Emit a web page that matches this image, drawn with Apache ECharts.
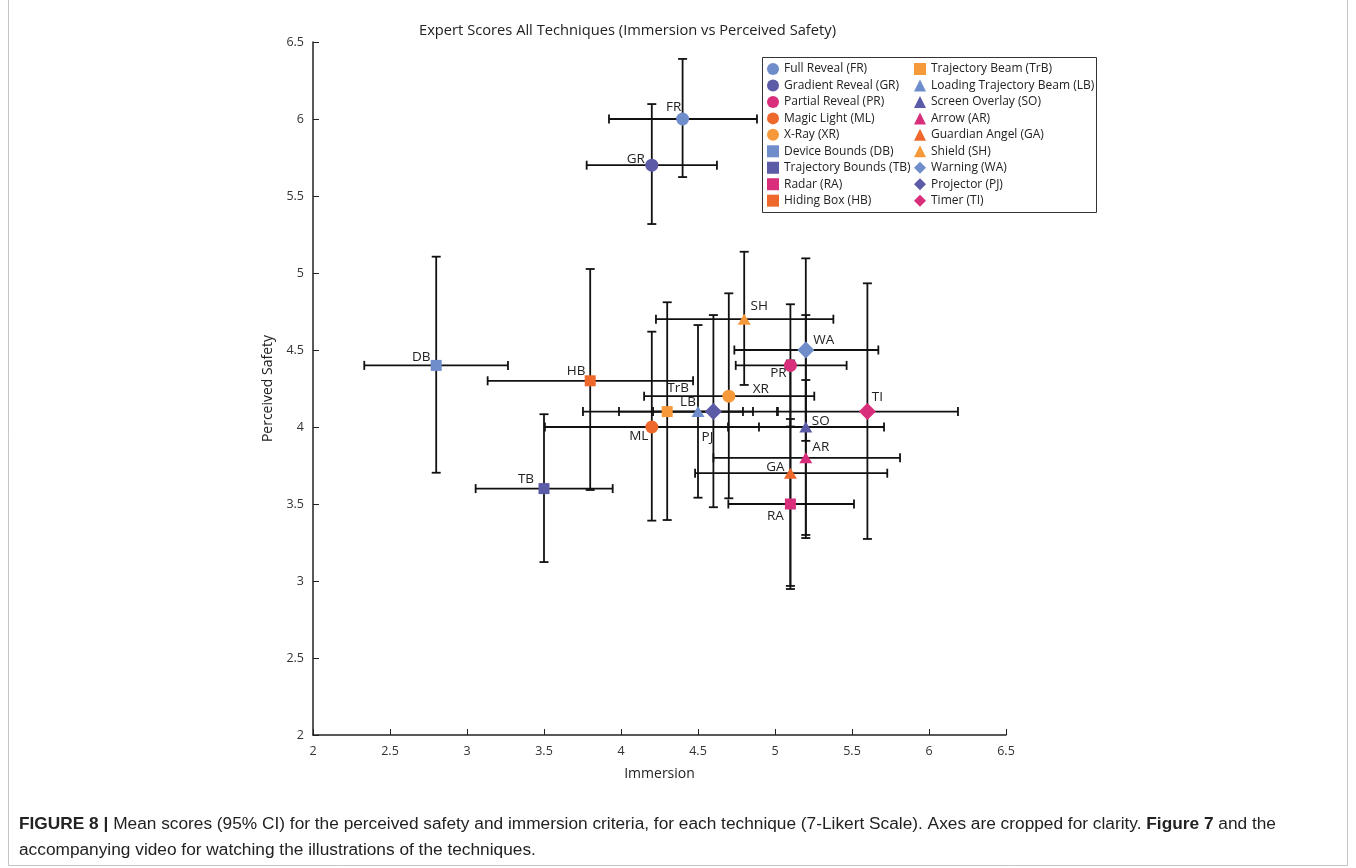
<!DOCTYPE html>
<html><head><meta charset="utf-8">
<script src="https://cdn.jsdelivr.net/npm/echarts@6/dist/echarts.min.js"></script>
<style>html,body{margin:0;padding:0;background:#fff}#c{width:1356px;height:868px}</style>
</head><body><div id="c"></div>
<script>
// ---- data ----
const techniques = ['Full Reveal (FR)','Gradient Reveal (GR)','Partial Reveal (PR)','Magic Light (ML)','X-Ray (XR)','Device Bounds (DB)','Trajectory Bounds (TB)','Radar (RA)','Hiding Box (HB)','Trajectory Beam (TrB)','Loading Trajectory Beam (LB)','Screen Overlay (SO)','Arrow (AR)','Guardian Angel (GA)','Shield (SH)','Warning (WA)','Projector (PJ)','Timer (TI)'];
const abbreviations = ['FR','GR','PR','ML','XR','DB','TB','RA','HB','TrB','LB','SO','AR','GA','SH','WA','PJ','TI'];
const immersionMean = [4.4,4.2,5.1,4.2,4.7,2.8,3.5,5.1,3.8,4.3,4.5,5.2,5.2,5.1,4.8,5.2,4.6,5.6];
const immersionLow  = [3.922,3.777,4.745,3.506,4.150,2.333,3.056,4.697,3.134,3.753,4.208,4.695,4.600,4.481,4.227,4.736,3.987,5.019];
const immersionHigh = [4.883,4.623,5.465,4.896,5.255,3.266,3.946,5.513,4.468,4.857,4.792,5.708,5.812,5.729,5.379,5.671,5.013,6.188];
const safetyMean = [6.0,5.7,4.4,4.0,4.2,4.4,3.6,3.5,4.3,4.1,4.1,4.0,3.8,3.7,4.7,4.5,4.1,4.1];
const safetyLow  = [5.623,5.318,4.003,3.392,3.537,3.703,3.123,2.948,3.591,3.396,3.541,3.279,3.299,2.968,4.273,3.910,3.479,3.273];
const safetyHigh = [6.390,6.097,4.797,4.619,4.868,5.106,4.083,4.052,5.026,4.810,4.662,4.727,4.305,4.432,5.138,5.095,4.727,4.933];
const axisMin = 2, axisMax = 6.5, axisStep = 0.5;

// ---- styles ----
const C1='#6f8dcb', C2='#5c5ba7', C3='#d82e7b', C4='#ee682b', C5='#f6993a';
const colors = [C1,C2,C3,C4,C5,C1,C2,C3,C4,C5,C1,C2,C3,C4,C5,C1,C2,C3];
const shapeOf = {c:'circle', s:'rect', t:'triangle', d:'diamond'};
const shapes = ['c','c','c','c','c','s','s','s','s','s','t','t','t','t','t','d','d','d'];
const sizeOf = {c:13, s:11, t:[13,11], d:17};
const labelOffsets = {FR:[-9,-12],GR:[-16,-6],PR:[-12,8],ML:[-13,9],XR:[32,-7],DB:[-15,-8],TB:[-18,-9],RA:[-15,12],HB:[-14,-10],TrB:[11,-23],LB:[-10,-9],SO:[15,-6],AR:[15,-11],GA:[-15,-6],SH:[15,-13],WA:[18,-10],PJ:[-6,26],TI:[10,-14]};
const FONT = "'Open Sans', 'Noto Sans', sans-serif";

const chart = echarts.init(document.getElementById('c'), null, {renderer:'canvas'});

const errData = techniques.map((t,i)=>[immersionMean[i], safetyMean[i], immersionLow[i], immersionHigh[i], safetyLow[i], safetyHigh[i]]);

const series = [{
  type:'custom', name:'err', silent:true, z:1,
  encode:{x:[0,2,3], y:[1,4,5]},
  data: errData,
  renderItem: function(params, api){
    const xm=api.value(0), ym=api.value(1), xl=api.value(2), xh=api.value(3), yl=api.value(4), yh=api.value(5);
    const pL=api.coord([xl,ym]), pR=api.coord([xh,ym]), pT=api.coord([xm,yh]), pB=api.coord([xm,yl]);
    const c=4.5;
    const st={stroke:'#111', lineWidth:1.8};
    const ln=(x1,y1,x2,y2)=>({type:'line', shape:{x1,y1,x2,y2}, style:st});
    return {type:'group', children:[
      ln(pL[0],pL[1],pR[0],pR[1]),
      ln(pL[0],pL[1]-c,pL[0],pL[1]+c),
      ln(pR[0],pR[1]-c,pR[0],pR[1]+c),
      ln(pT[0],pT[1],pB[0],pB[1]),
      ln(pT[0]-c,pT[1],pT[0]+c,pT[1]),
      ln(pB[0]-c,pB[1],pB[0]+c,pB[1])
    ]};
  }
}];
techniques.forEach((t,i)=>{
  series.push({
    type:'scatter', name:t, z:3,
    symbol: shapeOf[shapes[i]], symbolSize: sizeOf[shapes[i]],
    itemStyle:{color:colors[i], opacity:1},
    emphasis:{disabled:true},
    label:{show:true, position:'inside', offset:labelOffsets[abbreviations[i]], formatter:abbreviations[i], color:'#222', fontSize:13.5, fontFamily:FONT},
    data:[[immersionMean[i], safetyMean[i]]]
  });
});

const legendCommon = {orient:'vertical', top:62, padding:0, itemWidth:12, itemHeight:12, itemGap:2.46,
  textStyle:{fontSize:12, lineHeight:14, color:'#222', fontFamily:FONT}, selectedMode:false, inactiveColor:'#222'};
const legendData = (from,to)=>techniques.slice(from,to).map((t,k)=>({name:t, icon:shapeOf[shapes[from+k]]}));

chart.setOption({
  animation:false,
  backgroundColor:'#fff',
  title:{text:'Expert Scores All Techniques (Immersion vs Perceived Safety)', left:414, top:18,
    textStyle:{fontSize:14.7, fontWeight:'normal', color:'#222', fontFamily:FONT}},
  legend:[
    Object.assign({}, legendCommon, {left:767, data:legendData(0,9)}),
    Object.assign({}, legendCommon, {left:914, data:legendData(9,18)})
  ],
  grid:{left:313, right:350, top:42, bottom:133, containLabel:false},
  xAxis:{type:'value', min:axisMin, max:axisMax, interval:axisStep, name:'Immersion', nameLocation:'middle', nameGap:32,
    nameTextStyle:{fontSize:14, color:'#222', fontFamily:FONT},
    axisLine:{lineStyle:{color:'#222', width:1.5}}, axisTick:{inside:true, length:6, lineStyle:{color:'#222'}},
    axisLabel:{fontSize:12.5, color:'#333', margin:10, fontFamily:FONT}, splitLine:{show:false}},
  yAxis:{type:'value', min:axisMin, max:axisMax, interval:axisStep, name:'Perceived Safety', nameLocation:'middle', nameGap:38,
    nameTextStyle:{fontSize:14, color:'#222', fontFamily:FONT},
    axisLine:{show:true, lineStyle:{color:'#222', width:1.5}}, axisTick:{show:true, inside:true, length:6, lineStyle:{color:'#222'}},
    axisLabel:{fontSize:12.5, color:'#333', margin:9, fontFamily:FONT}, splitLine:{show:false}},
  graphic:[
    {type:'rect', shape:{x:762.5, y:57.5, width:334, height:155}, style:{fill:'none', stroke:'#333', lineWidth:1}, z:10},
    {type:'rect', shape:{x:8.5, y:-1, width:1339, height:866.5}, style:{fill:'none', stroke:'#c4c4c4', lineWidth:1}, z:0},
    {type:'text', left:19, top:811, z:10, style:{
      text:'{b|FIGURE 8 |} Mean scores (95% CI) for the perceived safety and immersion criteria, for each technique (7-Likert Scale). Axes are cropped for clarity. {b|Figure 7} and the\naccompanying video for watching the illustrations of the techniques.',
      font:"17.3px 'Liberation Sans', sans-serif", fill:'#222', lineHeight:26,
      rich:{b:{fontWeight:'bold', fontSize:17.3, fontFamily:"'Liberation Sans', sans-serif", fill:'#222'}}
    }}
  ],
  series: series
});
</script></body></html>
